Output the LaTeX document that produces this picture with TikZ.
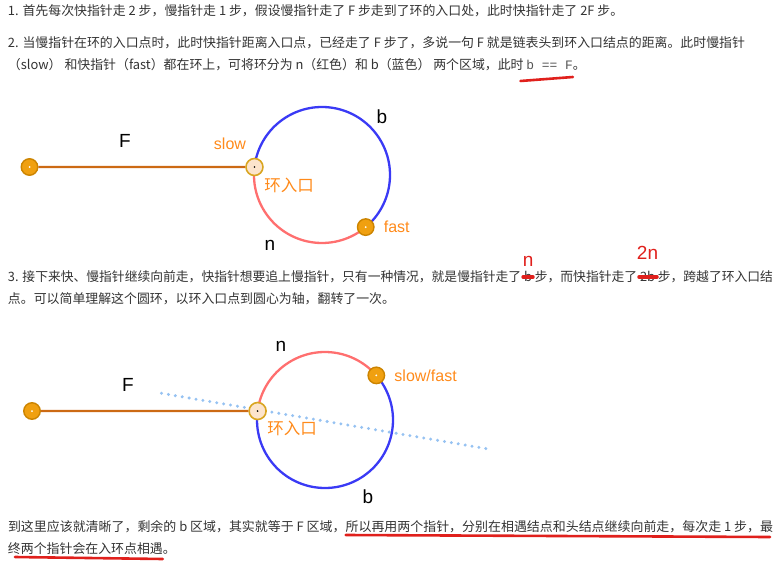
\documentclass[tikz,border=0pt]{standalone}
\usepackage{fontspec}
\setmainfont{Liberation Sans}
\newfontfamily\cjk{Noto Sans CJK SC}
\newfontfamily\codefont{Liberation Mono}
\usetikzlibrary{positioning}
\definecolor{txtgray}{HTML}{333333}
\definecolor{codegray}{HTML}{555555}
\definecolor{ptfill}{HTML}{F0A010}
\definecolor{ptedge}{HTML}{CC8400}
\definecolor{entryfill}{HTML}{FCE4CC}
\definecolor{entryedge}{HTML}{D9A520}
\definecolor{segcol}{HTML}{CC6A14}
\definecolor{loopblue}{HTML}{3A3AF5}
\definecolor{loopred}{HTML}{FF6F6F}
\definecolor{lbltxt}{HTML}{FF8A1A}
\definecolor{pen}{HTML}{E0201C}
\definecolor{axiscol}{HTML}{96C2F2}

\newlength\linew
\newcommand\txtfont{\cjk\fontsize{12.9}{15}\selectfont}

\tikzset{
  txt/.style={inner sep=0pt,outer sep=0pt,anchor=base west,text=txtgray,font=\txtfont},
  ptnode/.style={circle,draw=ptedge,fill=ptfill,line width=1.4pt,
    minimum size=16.5pt,inner sep=0pt,
    path picture={\fill[white](path picture bounding box.center)circle(1pt);}},
  entrynode/.style={circle,draw=entryedge,fill=entryfill,line width=1.6pt,
    minimum size=17pt,inner sep=0pt,
    path picture={\fill[black](path picture bounding box.center)circle(.9pt);}},
  seg/.style={segcol,line width=2.3pt},
  arcb/.style={loopblue,line width=2.3pt},
  arcr/.style={loopred,line width=2.3pt},
  lbl/.style={inner sep=0pt,font=\fontsize{19}{19}\selectfont},
  olbl/.style={inner sep=0pt,text=lbltxt,font=\fontsize{16}{16}\selectfont},
  clbl/.style={inner sep=0pt,text=lbltxt,font=\cjk\fontsize{16.5}{17}\selectfont},
  redpen/.style={pen,line width=2.6pt,line cap=round},
  redtxt/.style={inner sep=0pt,text=pen,font=\fontsize{19}{19}\selectfont},
}

\begin{document}
% widths of the two justified lines
\settowidth\linew{\txtfont 3. 接下来快、慢指针继续向前走，快指针想要追上慢指针，只有一种情况，就是慢指针走了 b 步，而快指针走了 2b 步，跨越了环入口结}
\pgfmathsetmacro\kfour{765/\linew}
\settowidth\linew{\txtfont 到这里应该就清晰了，剩余的 b 区域，其实就等于 F 区域，所以再用两个指针，分别在相遇结点和头结点继续向前走，每次走 1 步，最}
\pgfmathsetmacro\ksix{765/\linew}
\begin{tikzpicture}[x=1pt,y=1pt]
\useasboundingbox(0,0)rectangle(781,566);

% text, part 1 and 2
\node[txt](l1)at(8,550){1. 首先每次快指针走 2 步，慢指针走 1 步，假设慢指针走了 F 步走到了环的入口处，此时快指针走了 2F 步。};
\node[txt](l2)at(8,518){2. 当慢指针在环的入口点时，此时快指针距离入口点，已经走了 F 步了，多说一句 F 就是链表头到环入口结点的距离。此时慢指针};
\node[txt](l3a)at(8,496){（slow） 和快指针（fast）都在环上，可将环分为 n（红色）和 b（蓝色） 两个区域，此时\ \mbox{}};
\node[txt](l3b)at(l3a.base east){\codefont\color{codegray}b == F};
\node[txt](l3c)at(l3b.base east){。};
\draw[redpen]([shift={(-6pt,-11pt)}]l3b.base west)--([shift={(0pt,-7pt)}]l3b.base east);

% first loop
\coordinate(c1)at(322,391);
\draw[arcb]([shift={(173.25:68)}]c1)arc[start angle=173.25,end angle=-50,radius=68];
\draw[arcr]([shift={(173.25:68)}]c1)arc[start angle=173.25,end angle=310,radius=68];
\node[ptnode](h1)at(29.5,399){};
\node[entrynode](e1)at([shift={(173.25:68)}]c1){};
\node[ptnode](f1)at([shift={(-50:68)}]c1){};
\draw[seg](h1)--(e1);
\node[lbl](F1)at(125,425){F};
\node[olbl](slow1)at(230,422){slow};
\node[clbl](in1)at(289,381){环入口};
\node[olbl,right=9pt of f1](fast1){fast};
\node[lbl](b1)at(382,449){b};
\node[lbl](n1)at(270,321){n};

% text, part 3 (line fitted to 765pt)
\begin{scope}[shift={(8,0)},xscale=\kfour,transform shape]
\node[txt](l4a)at(0,285){3. 接下来快、慢指针继续向前走，快指针想要追上慢指针，只有一种情况，就是慢指针走了\ \mbox{}};
\node[txt](l4b)at(l4a.base east){b};
\node[txt](l4c)at(l4b.base east){\mbox{}\ 步，而快指针走了\ \mbox{}};
\node[txt](l4d)at(l4c.base east){2b};
\node[txt](l4e)at(l4d.base east){\mbox{}\ 步，跨越了环入口结};
\end{scope}
\node[txt](l5)at(8,263){点。可以简单理解这个圆环，以环入口点到圆心为轴，翻转了一次。};
\draw[redpen,line width=3.5pt]([xshift=-1pt,yshift=4pt]l4b.base west)--([xshift=1pt,yshift=4pt]l4b.base east);
\draw[redpen,line width=3.5pt]([xshift=-1pt,yshift=4pt]l4d.base west)--([xshift=2pt,yshift=4pt]l4d.base east);
\node[redtxt,above=4pt of l4b](nn){n};
\node[redtxt,above=11pt of l4d](twon){2n};

% second loop
\coordinate(c2)at(325,146);
\coordinate(ax1)at(161.5,172.7);
\coordinate(ax2)at(488.5,117);
\draw[axiscol,line width=3.3pt,line cap=round,dash pattern=on 0pt off 7pt](ax1)--(ax2);
\draw[arcr]([shift={(172.4:68)}]c2)arc[start angle=172.4,end angle=41,radius=68];
\draw[arcb]([shift={(41:68)}]c2)arc[start angle=41,end angle=-187.6,radius=68];
\node[ptnode](h2)at(32,155){};
\node[entrynode](e2)at([shift={(172.4:68)}]c2){};
\node[ptnode](sf2)at([shift={(41:68)}]c2){};
\draw[seg](h2)--(e2);
\node[lbl](F2)at(128,181){F};
\node[olbl,right=9pt of sf2](slowfast){slow/fast};
\node[clbl](in2)at(292,138){环入口};
\node[lbl](n2)at(281,220){n};
\node[lbl](b2)at(368,69){b};

% text, conclusion (line fitted to 765pt)
\begin{scope}[shift={(8,0)},xscale=\ksix,transform shape]
\node[txt](l6a)at(0,35){到这里应该就清晰了，剩余的 b 区域，其实就等于 F 区域，};
\node[txt](l6b)at(l6a.base east){所以再用两个指针，分别在相遇结点和头结点继续向前走，每次走 1 步，最};
\end{scope}
\node[txt](l7a)at(8,13){终};
\node[txt](l7b)at(l7a.base east){两个指针会在入环点相遇};
\node[txt](l7c)at(l7b.base east){。};
\draw[redpen]([shift={(0pt,-4pt)}]l6b.base west)--([shift={(-3pt,-6pt)}]l6b.base east);
\draw[redpen]([shift={(-6pt,-4pt)}]l7b.base west)--([shift={(0pt,-6pt)}]l7b.base east);
\end{tikzpicture}
\end{document}
